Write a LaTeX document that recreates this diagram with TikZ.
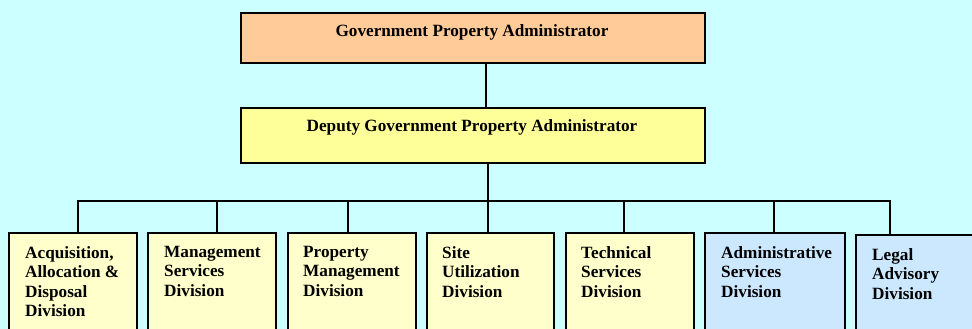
\documentclass[tikz,border=0pt]{standalone}
\usepackage{fontspec}
\setmainfont{Liberation Serif}
\definecolor{bg}{HTML}{CCFFFF}
\definecolor{topfill}{HTML}{FFCC99}
\definecolor{depfill}{HTML}{FFFF99}
\definecolor{divfill}{HTML}{FFFFCC}
\definecolor{bluefill}{HTML}{CCE8FF}
\tikzset{
  boxst/.style={draw=black, line width=1.8pt, rectangle, inner sep=0pt, anchor=north west},
  titletext/.style={anchor=base, inner sep=0pt, font=\fontsize{17.2}{19.5}\selectfont\bfseries},
  divtext/.style={anchor=north west, inner sep=0pt, align=left, font=\fontsize{17.2}{19.5}\selectfont\bfseries},
  conn/.style={line width=1.8pt, line cap=rect}
}
\begin{document}
\begin{tikzpicture}[x=1pt,y=-1pt]
\fill[bg] (0,0) rectangle (972,329);
\useasboundingbox (0,0) rectangle (972,329);
\clip (0,0) rectangle (972,329);
% top boxes
\node[boxst, fill=topfill, minimum width=464pt, minimum height=50pt] (gpa) at (240,12) {};
\node[titletext] (gpat) at (472,37) {Government Property Administrator};
\node[boxst, fill=depfill, minimum width=464pt, minimum height=55pt] (dep) at (240,107) {};
\node[titletext] (dept) at (472,131) {Deputy Government Property Administrator};
% division boxes
\node[boxst, fill=divfill, minimum width=128pt, minimum height=110pt] (a1) at (8,232) {};
\node[boxst, fill=divfill, minimum width=128pt, minimum height=110pt] (a2) at (147,232) {};
\node[boxst, fill=divfill, minimum width=128pt, minimum height=110pt] (a3) at (287,232) {};
\node[boxst, fill=divfill, minimum width=127pt, minimum height=110pt] (a4) at (426,232) {};
\node[boxst, fill=divfill, minimum width=128pt, minimum height=110pt] (a5) at (565,232) {};
\node[boxst, fill=bluefill, minimum width=140pt, minimum height=110pt] (a6) at (704,232) {};
\node[boxst, fill=bluefill, minimum width=140pt, minimum height=110pt] (a7) at (855,234) {};
% division texts
\node[divtext] (t1) at (25,246) {Acquisition,\\Allocation \&\\Disposal\\Division};
\node[divtext] (t2) at (164,246) {Management\\Services\\Division};
\node[divtext] (t3) at (303,246) {Property\\Management\\Division};
\node[divtext] (t4) at (442,246) {Site\\Utilization\\Division};
\node[divtext] (t5) at (581,246) {Technical\\Services\\Division};
\node[divtext] (t6) at (721,246) {Administrative\\Services\\Division};
\node[divtext] (t7) at (872,248) {Legal\\Advisory\\Division};
% connectors
\coordinate (b1) at (78,201);
\coordinate (b2) at (217,201);
\coordinate (b3) at (348,201);
\coordinate (b4) at (488,201);
\coordinate (b5) at (624,201);
\coordinate (b6) at (774,201);
\coordinate (b7) at (890,201);
\draw[conn] ([xshift=13pt]gpa.south) -- ([xshift=13pt]dep.north);
\draw[conn] (dep.south -| b4) -- (b4);
\draw[conn] (b1) -- (b7);
\foreach \i in {1,...,7} {
  \draw[conn] (b\i) -- (b\i |- a\i.north);
}
\end{tikzpicture}
\end{document}
